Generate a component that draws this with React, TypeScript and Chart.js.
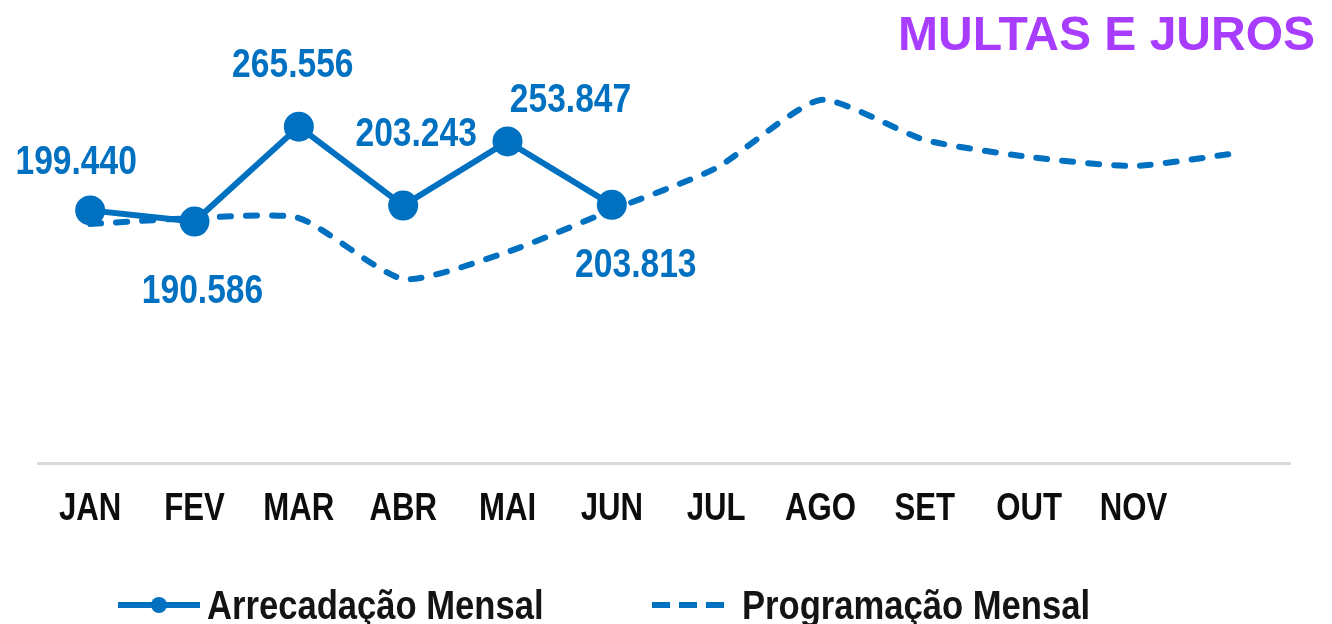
import React, { useEffect, useRef } from 'react';
import { Chart, registerables } from 'chart.js';

Chart.register(...registerables);

const months = ['JAN', 'FEV', 'MAR', 'ABR', 'MAI', 'JUN', 'JUL', 'AGO', 'SET', 'OUT', 'NOV', ''];
const arrecadacao = [199440, 190586, 265556, 203243, 253847, 203813, null, null, null, null, null, null];
const programacao = [188700, 193400, 193400, 145300, 166600, 199700, 232900, 286600, 255000, 241600, 234500, 244700];
const labelOffsets = [[-14, -47], [8, 70], [-6, -61], [13, -71], [63, -40], [24, 61]];
const chartTitle = 'MULTAS E JUROS';
const legendLabels = ['Arrecadação Mensal', 'Programação Mensal'];

const BLUE = '#0070C0';
const PURPLE = '#A83CFF';
const FONT = '"Liberation Sans", Arial, sans-serif';

const fmt = (n: number) => String(n).replace(/\B(?=(\d{3})+(?!\d))/g, '.');

function squeezeText(
  ctx: CanvasRenderingContext2D,
  text: string,
  x: number,
  y: number,
  sx: number,
) {
  ctx.save();
  ctx.translate(x, y);
  ctx.scale(sx, 1);
  ctx.fillText(text, 0, 0);
  ctx.restore();
}

const overlay = {
  id: 'overlay',
  afterDatasetsDraw(chart: any) {
    const ctx = chart.ctx as CanvasRenderingContext2D;
    const meta = chart.getDatasetMeta(0);
    const xScale = chart.scales.x;
    const area = chart.chartArea;
    ctx.save();
    // data labels
    ctx.font = `bold 40px ${FONT}`;
    ctx.fillStyle = BLUE;
    ctx.textAlign = 'center';
    ctx.textBaseline = 'middle';
    meta.data.forEach((pt: any, i: number) => {
      const v = arrecadacao[i];
      if (v == null) return;
      const [dx, dy] = labelOffsets[i];
      squeezeText(ctx, fmt(v), pt.x + dx, pt.y + dy, 0.84);
    });
    // x tick labels (condensed)
    ctx.font = `bold 38px ${FONT}`;
    ctx.fillStyle = '#0d0d0d';
    ctx.textAlign = 'center';
    ctx.textBaseline = 'middle';
    months.forEach((m, i) => {
      if (!m) return;
      squeezeText(ctx, m, xScale.getPixelForTick(i), area.bottom + 47, 0.82);
    });
    // title
    ctx.font = `bold 48px ${FONT}`;
    ctx.fillStyle = PURPLE;
    ctx.textAlign = 'right';
    ctx.textBaseline = 'alphabetic';
    ctx.fillText(chartTitle, 1315, 50);
    // legend
    const ly = 605;
    ctx.strokeStyle = BLUE;
    ctx.lineWidth = 6;
    ctx.setLineDash([]);
    ctx.beginPath();
    ctx.moveTo(118, ly);
    ctx.lineTo(200, ly);
    ctx.stroke();
    ctx.fillStyle = BLUE;
    ctx.beginPath();
    ctx.arc(159, ly, 8, 0, Math.PI * 2);
    ctx.fill();
    ctx.setLineDash([18, 9]);
    ctx.beginPath();
    ctx.moveTo(652, ly);
    ctx.lineTo(725, ly);
    ctx.stroke();
    ctx.setLineDash([]);
    ctx.font = `bold 40px ${FONT}`;
    ctx.fillStyle = '#141414';
    ctx.textAlign = 'left';
    ctx.textBaseline = 'alphabetic';
    squeezeText(ctx, legendLabels[0], 207, 619, 0.865);
    squeezeText(ctx, legendLabels[1], 742, 619, 0.865);
    ctx.restore();
  },
};

export default function App() {
  const ref = useRef<HTMLCanvasElement | null>(null);
  useEffect(() => {
    document.body.style.margin = '0';
    const canvas = ref.current;
    if (!canvas) return;
    const chart = new Chart(canvas, {
      type: 'line',
      data: {
        labels: months,
        datasets: [
          {
            label: legendLabels[0],
            data: arrecadacao,
            borderColor: BLUE,
            backgroundColor: BLUE,
            borderWidth: 6,
            pointRadius: 15,
            pointBorderWidth: 0,
            pointBackgroundColor: BLUE,
            tension: 0,
            spanGaps: false,
          },
          {
            label: legendLabels[1],
            data: programacao,
            borderColor: BLUE,
            backgroundColor: BLUE,
            borderWidth: 6,
            borderDash: [11, 15],
            borderCapStyle: 'round',
            pointRadius: 0,
            tension: 0.2,
          },
        ],
      },
      options: {
        responsive: false,
        animation: false,
        layout: { padding: { left: 38, right: 42, top: 83, bottom: 94 } },
        plugins: {
          legend: { display: false },
          title: { display: false },
          tooltip: { enabled: false },
        },
        scales: {
          x: {
            offset: true,
            grid: { display: true, color: 'rgba(0,0,0,0)', drawTicks: false },
            border: { display: true, color: '#D9D9D9', width: 3 },
            ticks: { display: false, autoSkip: false },
            afterFit: (scale: any) => {
              scale.height = 67;
            },
          },
          y: {
            display: false,
            min: 0,
            max: 300000,
          },
        },
      },
      plugins: [overlay],
    } as any);
    return () => chart.destroy();
  }, []);
  return (
    <div style={{ width: 1332, height: 624, background: '#fff' }}>
      <canvas ref={ref} width={1332} height={624} />
    </div>
  );
}
